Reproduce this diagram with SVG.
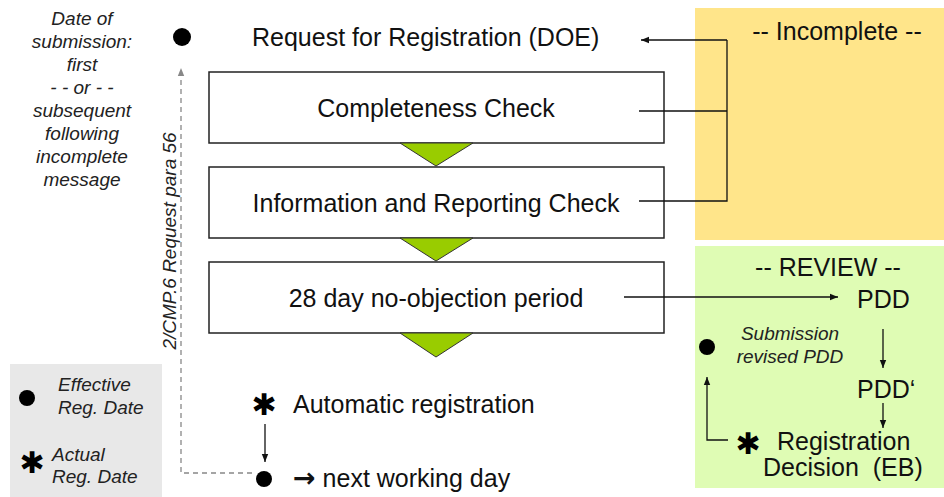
<svg xmlns="http://www.w3.org/2000/svg" width="944" height="497" viewBox="0 0 944 497">
<defs>
<marker id="ah" viewBox="0 0 10 10" refX="10" refY="5" markerWidth="8" markerHeight="8" markerUnits="userSpaceOnUse" orient="auto">
<path d="M0,1 L10,5 L0,9 z" fill="#111"/>
</marker>
<marker id="ahg" viewBox="0 0 10 10" refX="10" refY="5" markerWidth="8" markerHeight="8" markerUnits="userSpaceOnUse" orient="auto">
<path d="M0,1 L10,5 L0,9 z" fill="#888"/>
</marker>
<style>
.t{font-family:"Liberation Sans",Arial,sans-serif;font-size:25px;fill:#111;white-space:pre}
.i{font-family:"Liberation Sans",Arial,sans-serif;font-size:19px;font-style:italic;fill:#222}
.box{fill:#fff;stroke:#222;stroke-width:1.5}
.tri{fill:#99CC00;stroke:#333;stroke-width:1}
.ln{fill:none;stroke:#111;stroke-width:1.3}
.dash{fill:none;stroke:#888;stroke-width:1.3;stroke-dasharray:5 4}
.dot{fill:#000}
.ast{font-family:"DejaVu Sans",sans-serif;font-size:30px;fill:#000;text-anchor:middle}
.arr{font-family:"DejaVu Sans",sans-serif;font-size:27px;font-weight:bold}
</style>
</defs>
<rect id="incomplete-panel" x="695" y="8" width="249" height="232" fill="#FFE58A"/>
<rect id="review-panel" x="695" y="246" width="249" height="242" fill="#DFFCB4"/>
<rect id="legend-panel" x="10" y="364" width="152" height="133" fill="#E8E8E8"/>

<g id="left-note">
<text class="i" text-anchor="middle"><tspan x="82" y="25">Date of</tspan><tspan x="82" y="48">submission:</tspan><tspan x="82" y="71">first</tspan><tspan x="82" y="94">- - or - -</tspan><tspan x="82" y="117">subsequent</tspan><tspan x="82" y="140">following</tspan><tspan x="82" y="163">incomplete</tspan><tspan x="82" y="186">message</tspan></text>
</g>
<g id="rule-label">
<text class="i" text-anchor="middle" transform="translate(176,241) rotate(-90)">2/CMP.6 Request para 56</text>
</g>

<g id="request">
<circle class="dot" cx="182" cy="37" r="9"/>
<text class="t" x="252" y="46">Request for Registration (DOE)</text>
</g>
<g id="completeness">
<rect class="box" x="209" y="72" width="455" height="71"/>
<text class="t" x="436" y="117" text-anchor="middle">Completeness Check</text>
</g>
<polygon class="tri" points="400,143 473,143 436,166"/>
<g id="information">
<rect class="box" x="209" y="167" width="455" height="71"/>
<text class="t" x="436" y="212" text-anchor="middle">Information and Reporting Check</text>
</g>
<polygon class="tri" points="400,238 473,238 436,261"/>
<g id="no-objection">
<rect class="box" x="209" y="262" width="455" height="71"/>
<text class="t" x="436" y="307" text-anchor="middle">28 day no-objection period</text>
</g>
<polygon class="tri" points="400,333 473,333 436,357"/>

<g id="incomplete">
<text class="t" x="837" y="40" text-anchor="middle">-- Incomplete --</text>
</g>
<g id="review">
<text class="t" x="828" y="276" text-anchor="middle">-- REVIEW --</text>
</g>
<g id="pdd"><text class="t" x="857" y="308">PDD</text></g>
<g id="pdd2"><text class="t" x="857" y="398">PDD‘</text></g>
<g id="resubmission">
<circle class="dot" cx="707" cy="347" r="8"/>
<text class="i" text-anchor="middle"><tspan x="790" y="340">Submission</tspan><tspan x="790" y="363">revised PDD</tspan></text>
</g>
<g id="decision">
<text class="ast" x="748" y="454">✱</text>
<text class="t"><tspan x="777" y="450">Registration</tspan><tspan x="763" y="476">Decision  (EB)</tspan></text>
</g>

<g id="automatic">
<text class="ast" x="264" y="415">✱</text>
<text class="t" x="293" y="413">Automatic registration</text>
</g>
<g id="next-day">
<circle class="dot" cx="264" cy="479" r="8"/>
<text class="t" x="293" y="487"><tspan class="arr">→</tspan> next working day</text>
</g>

<g id="legend">
<circle class="dot" cx="27" cy="398" r="8"/>
<text class="i"><tspan x="58" y="391">Effective</tspan><tspan x="58" y="414">Reg. Date</tspan></text>
<text class="ast" x="32" y="473">✱</text>
<text class="i"><tspan x="52" y="461">Actual</tspan><tspan x="52" y="483">Reg. Date</tspan></text>
</g>

<g id="connectors">
<path class="ln" d="M639,111 H727 M639,201 H727 V40"/>
<line class="ln" x1="727" y1="40" x2="641" y2="40" marker-end="url(#ah)"/>
<line class="ln" x1="624" y1="297" x2="838" y2="297" marker-end="url(#ah)"/>
<line class="ln" x1="883" y1="329" x2="883" y2="368" marker-end="url(#ah)"/>
<line class="ln" x1="883" y1="403" x2="883" y2="428" marker-end="url(#ah)"/>
<path class="ln" d="M728,440 H707 V377" marker-end="url(#ah)"/>
<line class="ln" x1="265" y1="424" x2="265" y2="462" marker-end="url(#ah)"/>
<path class="dash" d="M252,473 H181 V68" marker-end="url(#ahg)"/>
</g>
</svg>
